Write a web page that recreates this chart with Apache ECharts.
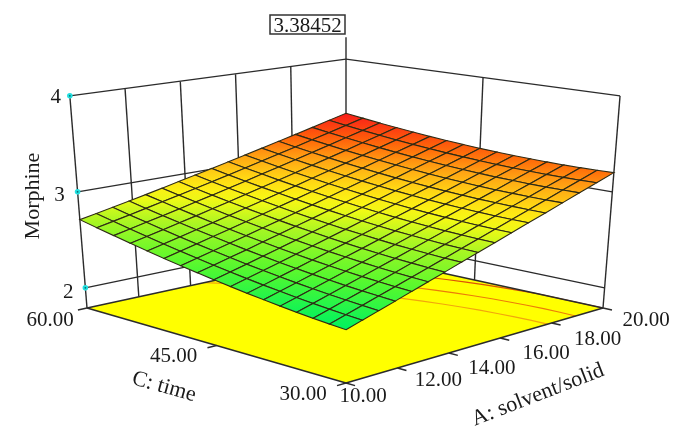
<!DOCTYPE html>
<html>
<head>
<meta charset="utf-8">
<style>
  html, body { margin: 0; padding: 0; background: #fff; }
  #main { width: 682px; height: 441px; }
</style>
</head>
<body>
<div id="main"></div>
<script src="https://cdn.jsdelivr.net/npm/echarts@6/dist/echarts.min.js"></script>
<script>
// A: solvent/solid (10-20), C: time (30-60), response: Morphine
const aTicks = [10, 12, 14, 16, 18, 20]
const cTicks = [30, 45, 60]
const zTicks = [2, 3, 4]
const contourLevels = [2.98, 3.09, 3.2]
const flagValue = 3.38452
// surface heights, one row per time step (30 -> 60), one column per A step (10 -> 20)
const surfaceZ = [
  [2.290,2.339,2.388,2.439,2.491,2.544,2.598,2.654,2.710,2.767,2.826,2.886,2.946,3.008,3.071,3.135,3.200],
  [2.302,2.350,2.399,2.449,2.500,2.552,2.605,2.659,2.715,2.771,2.829,2.887,2.947,3.008,3.070,3.133,3.197],
  [2.316,2.363,2.411,2.460,2.510,2.561,2.614,2.667,2.721,2.777,2.834,2.891,2.950,3.010,3.071,3.133,3.196],
  [2.332,2.378,2.425,2.473,2.522,2.572,2.624,2.676,2.730,2.784,2.840,2.897,2.955,3.014,3.074,3.135,3.197],
  [2.350,2.395,2.441,2.488,2.536,2.586,2.636,2.687,2.740,2.794,2.849,2.904,2.961,3.019,3.079,3.139,3.200],
  [2.370,2.414,2.459,2.505,2.552,2.601,2.650,2.701,2.752,2.805,2.859,2.914,2.970,3.027,3.085,3.144,3.205],
  [2.391,2.434,2.479,2.524,2.570,2.618,2.666,2.716,2.766,2.818,2.871,2.925,2.980,3.036,3.094,3.152,3.211],
  [2.415,2.457,2.500,2.544,2.590,2.636,2.684,2.732,2.782,2.833,2.885,2.938,2.992,3.047,3.104,3.161,3.220],
  [2.440,2.481,2.523,2.567,2.611,2.657,2.704,2.751,2.800,2.850,2.901,2.953,3.006,3.061,3.116,3.173,3.230],
  [2.467,2.507,2.549,2.591,2.635,2.679,2.725,2.772,2.820,2.869,2.919,2.970,3.022,3.076,3.130,3.186,3.242],
  [2.496,2.536,2.576,2.618,2.660,2.704,2.749,2.794,2.841,2.889,2.939,2.989,3.040,3.093,3.146,3.201,3.256],
  [2.527,2.566,2.605,2.646,2.687,2.730,2.774,2.819,2.865,2.912,2.960,3.009,3.060,3.111,3.164,3.217,3.272],
  [2.560,2.597,2.636,2.676,2.716,2.758,2.801,2.845,2.890,2.936,2.984,3.032,3.081,3.132,3.184,3.236,3.290],
  [2.595,2.631,2.669,2.708,2.747,2.788,2.830,2.873,2.917,2.962,3.009,3.056,3.105,3.154,3.205,3.257,3.310],
  [2.631,2.667,2.704,2.741,2.780,2.820,2.861,2.903,2.946,2.991,3.036,3.083,3.130,3.179,3.229,3.279,3.331],
  [2.670,2.704,2.740,2.777,2.815,2.854,2.894,2.935,2.977,3.021,3.065,3.111,3.157,3.205,3.254,3.304,3.355],
  [2.710,2.744,2.779,2.814,2.851,2.889,2.929,2.969,3.010,3.052,3.096,3.141,3.186,3.233,3.281,3.330,3.380]
]

const FONT = '"Liberation Serif", serif'
const LINE = '#2b2b2b'
const aMin = 10, aMax = 20, cMin = 30, cMax = 60
const zFloor = 1.79, zFlag = 4.25

// colour ramp of the surface
const colorStops = [
  [2.29, [0, 242, 95]],
  [2.5, [85, 248, 45]],
  [2.71, [170, 246, 35]],
  [2.85, [250, 250, 20]],
  [2.95, [255, 222, 20]],
  [3.1, [255, 160, 20]],
  [3.2, [255, 105, 8]],
  [3.38, [248, 28, 25]]
]
function zColor (z) {
  for (let k = 1; k < colorStops.length; k++) {
    if (z <= colorStops[k][0]) {
      const lo = colorStops[k - 1], hi = colorStops[k]
      const t = Math.max(0, (z - lo[0]) / (hi[0] - lo[0]))
      return 'rgb(' + lo[1].map((v, n) => Math.round(v + (hi[1][n] - v) * t)).join(',') + ')'
    }
  }
  return 'rgb(' + colorStops[colorStops.length - 1][1].join(',') + ')'
}

// box on screen: floor corners, then height on top of them
const F = [346, 383], R = [603, 308], B = [346, 252], L = [87, 308]

function project (A, C, z) {
  const a = (A - aMin) / (aMax - aMin)
  const c = (C - cMin) / (cMax - cMin)
  const x0 = F[0] * (1 - a) * (1 - c) + R[0] * a * (1 - c) + L[0] * (1 - a) * c + B[0] * a * c
  const y0 = F[1] * (1 - a) * (1 - c) + R[1] * a * (1 - c) + L[1] * (1 - a) * c + B[1] * a * c
  const s = 96 / (1 + 0.1 * (a + c - 1))
  return [x0 + (x0 - 346) * (z - zFloor) * 0.03, y0 - s * (z - zFloor)]
}

const aStep = (aMax - aMin) / (surfaceZ[0].length - 1)
const cStep = (cMax - cMin) / (surfaceZ.length - 1)

// one line segment per item: [A1, C1, z1, A2, C2, z2]
const wallSegs = []
zTicks.forEach(z => {
  wallSegs.push([aMin, cMax, z, aMax, cMax, z], [aMax, cMax, z, aMax, cMin, z])
})
aTicks.slice(1, -1).forEach(a => wallSegs.push([a, cMax, zFloor, a, cMax, 4]))
cTicks.slice(1, -1).forEach(c => wallSegs.push([aMax, c, zFloor, aMax, c, 4]))
wallSegs.push([aMin, cMax, zFloor, aMin, cMax, 4], [aMax, cMin, zFloor, aMax, cMin, 4])
wallSegs.push([aMax, cMax, zFloor, aMax, cMax, zFlag])

const floorEdges = [
  [aMin, cMax, zFloor, aMax, cMax, zFloor],
  [aMax, cMax, zFloor, aMax, cMin, zFloor]
]
const frontEdges = [
  [aMin, cMin, zFloor, aMin, cMax, zFloor],
  [aMin, cMin, zFloor, aMax, cMin, zFloor]
]
aTicks.forEach(a => frontEdges.push([a, cMin, zFloor, a, cMin - 1.05, zFloor]))
cTicks.forEach(c => frontEdges.push([aMin, c, zFloor, aMin - 0.35, c, zFloor]))

function segRender (color, width) {
  return function (params, api) {
    const p1 = api.coord(project(api.value(0), api.value(1), api.value(2)))
    const p2 = api.coord(project(api.value(3), api.value(4), api.value(5)))
    return {
      type: 'line',
      shape: { x1: p1[0], y1: p1[1], x2: p2[0], y2: p2[1] },
      style: { stroke: color, lineWidth: width, fill: null }
    }
  }
}

// floor contour of a level: where each time row crosses it
function contourPoints (level) {
  const pts = []
  surfaceZ.forEach((row, j) => {
    for (let i = 1; i < row.length; i++) {
      if (row[i - 1] <= level && row[i] >= level) {
        const t = (level - row[i - 1]) / (row[i] - row[i - 1])
        pts.push([aMin + (i - 1 + t) * aStep, cMin + j * cStep])
        break
      }
    }
  })
  return pts
}
const contourColors = ['#f2a60c', '#ec7c08', '#dc5206']

// far cells first
const cells = []
for (let j = surfaceZ.length - 2; j >= 0; j--) {
  for (let i = surfaceZ[0].length - 2; i >= 0; i--) cells.push([i, j])
}

const aLabelOff = [[17, 13], [41, 12], [43, 15], [46, 15], [46, 16], [43, 12]]
const cLabelOff = [[-43, 11], [-43, 11], [-37, 12]]
const zLabelOff = [[-17, 5], [-18, 4], [-14, 2]]
const tickLabels = [
  ...aTicks.map((a, n) => ({ text: a.toFixed(2), at: [a, cMin, zFloor], off: aLabelOff[n] })),
  ...cTicks.map((c, n) => ({ text: c.toFixed(2), at: [aMin, c, zFloor], off: cLabelOff[n] })),
  ...zTicks.map((z, n) => ({ text: String(z), at: [aMin, cMax, z], off: zLabelOff[n] }))
]

const chart = echarts.init(document.getElementById('main'), null, { renderer: 'canvas' })

function custom (data, renderItem, z) {
  return {
    type: 'custom',
    coordinateSystem: 'cartesian2d',
    data,
    z,
    clip: false,
    silent: true,
    animation: false,
    renderItem,
    encode: { x: 0, y: 1 }
  }
}

chart.setOption({
  animation: false,
  backgroundColor: '#fff',
  grid: { left: 0, right: 0, top: 0, bottom: 0 },
  xAxis: { type: 'value', min: 0, max: 682, show: false },
  yAxis: { type: 'value', min: 0, max: 441, inverse: true, show: false },
  series: [
    custom(wallSegs, segRender(LINE, 1.4), 1),
    // yellow floor
    custom([0], function (params, api) {
      const pts = [[aMin, cMin], [aMax, cMin], [aMax, cMax], [aMin, cMax]]
        .map(p => api.coord(project(p[0], p[1], zFloor)))
      return { type: 'polygon', shape: { points: pts }, style: { fill: '#ffff00', stroke: null } }
    }, 2),
    custom(contourLevels.map((l, n) => [n]), function (params, api) {
      const n = api.value(0)
      const pts = contourPoints(contourLevels[n]).map(p => api.coord(project(p[0], p[1], zFloor)))
      return { type: 'polyline', shape: { points: pts }, style: { stroke: contourColors[n], lineWidth: 1.2, fill: null } }
    }, 3),
    custom(floorEdges, segRender(LINE, 1.5), 4),
    // surface
    custom(cells, function (params, api) {
      const i = api.value(0), j = api.value(1)
      const corner = (ii, jj) => api.coord(project(aMin + ii * aStep, cMin + jj * cStep, surfaceZ[jj][ii]))
      const lo = corner(i, j), hi = corner(i + 1, j + 1)
      const fill = new echarts.graphic.LinearGradient(lo[0], lo[1], hi[0], hi[1], [
        { offset: 0, color: zColor(surfaceZ[j][i]) },
        { offset: 1, color: zColor(surfaceZ[j + 1][i + 1]) }
      ], true)
      return {
        type: 'polygon',
        shape: { points: [lo, corner(i + 1, j), hi, corner(i, j + 1)] },
        style: { fill, stroke: '#2e2a14', lineWidth: 1.1 }
      }
    }, 5),
    custom(frontEdges, segRender(LINE, 1.5), 6),
    // cyan markers on the height axis
    custom(zTicks.map(z => [z]), function (params, api) {
      const p = api.coord(project(aMin, cMax, api.value(0)))
      return {
        type: 'group',
        children: [
          { type: 'circle', shape: { cx: p[0], cy: p[1], r: 2.8 }, style: { fill: '#22e0e0' } },
          { type: 'circle', shape: { cx: p[0], cy: p[1], r: 0.9 }, style: { fill: '#0a6a70' } }
        ]
      }
    }, 7),
    // tick labels
    custom(tickLabels.map((t, n) => [n]), function (params, api) {
      const t = tickLabels[api.value(0)]
      const p = api.coord(project(t.at[0], t.at[1], t.at[2]))
      return {
        type: 'text',
        x: p[0] + t.off[0],
        y: p[1] + t.off[1],
        style: { text: t.text, fill: '#1a1a1a', font: '21px ' + FONT, textAlign: 'center', textVerticalAlign: 'middle' }
      }
    }, 8)
  ],
  graphic: [
    { type: 'rect', z: 20, shape: { x: 270, y: 15, width: 75, height: 19 }, style: { fill: '#fff', stroke: '#333', lineWidth: 1.5 } },
    { type: 'text', z: 21, x: 307.5, y: 26, style: { text: flagValue.toFixed(5), fill: '#1a1a1a', font: '21px ' + FONT, textAlign: 'center', textVerticalAlign: 'middle' } },
    { type: 'text', z: 21, x: 33, y: 196, rotation: Math.PI / 2, style: { text: 'Morphine', fill: '#1a1a1a', font: '22px ' + FONT, textAlign: 'center', textVerticalAlign: 'middle' } },
    { type: 'text', z: 21, x: 164, y: 387, rotation: -0.27, style: { text: 'C: time', fill: '#1a1a1a', font: '22px ' + FONT, textAlign: 'center', textVerticalAlign: 'middle' } },
    { type: 'text', z: 21, x: 538, y: 395, rotation: 0.37, style: { text: 'A: solvent/solid', fill: '#1a1a1a', font: '22px ' + FONT, textAlign: 'center', textVerticalAlign: 'middle' } }
  ]
})
</script>
</body>
</html>
